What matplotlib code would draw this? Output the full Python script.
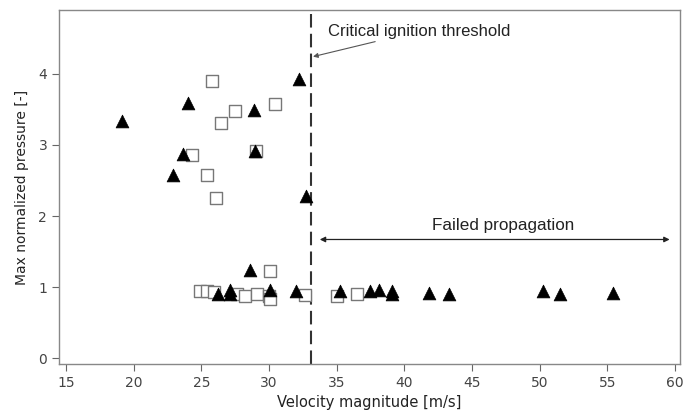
import matplotlib
matplotlib.use("Agg")
import matplotlib.pyplot as plt

# Filled triangles
tri_x = [19.16, 24.04, 32.24, 28.9, 23.63, 28.97, 22.89, 32.72,
         28.6, 26.26, 27.12, 27.15, 30.08, 32.0,
         35.25, 37.47, 38.13, 39.12, 39.12, 41.85, 43.29, 50.23, 51.53, 55.45]
tri_y = [3.33, 3.59, 3.92, 3.49, 2.87, 2.91, 2.58, 2.28,
         1.24, 0.91, 0.96, 0.90, 0.96, 0.94,
         0.94, 0.94, 0.96, 0.95, 0.90, 0.92, 0.91, 0.94, 0.91, 0.92]

# Open squares
sq_x = [25.77, 30.47, 27.51, 26.43, 24.33, 29.02, 25.4, 26.09,
        30.08, 24.9, 25.4, 25.9, 27.6, 28.23, 29.1, 30.0, 30.05, 32.66,
        35.05, 36.53]
sq_y = [3.90, 3.57, 3.48, 3.31, 2.86, 2.92, 2.57, 2.26,
        1.23, 0.94, 0.94, 0.93, 0.91, 0.87, 0.91, 0.87, 0.84, 0.89,
        0.88, 0.90]

x_ticks = [15, 20, 25, 30, 35, 40, 45, 50, 55, 60]
y_ticks = [0, 1, 2, 3, 4]
threshold = 33.1

fig = plt.figure(figsize=(6.84, 4.18), dpi=100)
ax = fig.add_axes([0.0863, 0.1292, 0.9079, 0.8468])

ax.scatter(sq_x, sq_y, marker='s', s=64, facecolor='white',
           edgecolor='#777777', linewidth=1.0, zorder=3)
ax.scatter(tri_x, tri_y, marker='^', s=85, facecolor='black',
           edgecolor='black', linewidth=0.5, zorder=4)

ax.axvline(threshold, color='#333333', lw=1.5, linestyle=(0, (6.5, 3)), zorder=2)

ax.annotate('Critical ignition threshold', xy=(33.25, 4.24), xytext=(34.35, 4.6),
            ha='left', va='center', fontsize=12, family='Liberation Sans',
            color='#222222',
            arrowprops=dict(arrowstyle='-|>', color='#555555', lw=0.8,
                            mutation_scale=7, shrinkA=1, shrinkB=0))

ax.annotate('', xy=(59.6, 1.67), xytext=(33.75, 1.67),
            arrowprops=dict(arrowstyle='<|-|>', color='#222222', lw=0.9,
                            mutation_scale=8, shrinkA=0, shrinkB=0))
ax.text(47.3, 1.87, 'Failed propagation', ha='center', va='center',
        fontsize=12.3, family='Liberation Sans', color='#222222')

ax.set_xlim(14.48, 60.37)
ax.set_ylim(-0.08, 4.895)
ax.set_xticks(x_ticks)
ax.set_yticks(y_ticks)

for sp in ax.spines.values():
    sp.set_color('#888888')
    sp.set_linewidth(1.0)
ax.tick_params(direction='out', length=5, width=0.8, color='#666666',
               labelcolor='#444444', labelsize=10)
ax.set_xlabel('Velocity magnitude [m/s]', fontsize=10.5, color='#222222', labelpad=4)
ax.set_ylabel('Max normalized pressure [-]', fontsize=10, color='#222222', labelpad=7)

fig.savefig('out.png', dpi=100)
